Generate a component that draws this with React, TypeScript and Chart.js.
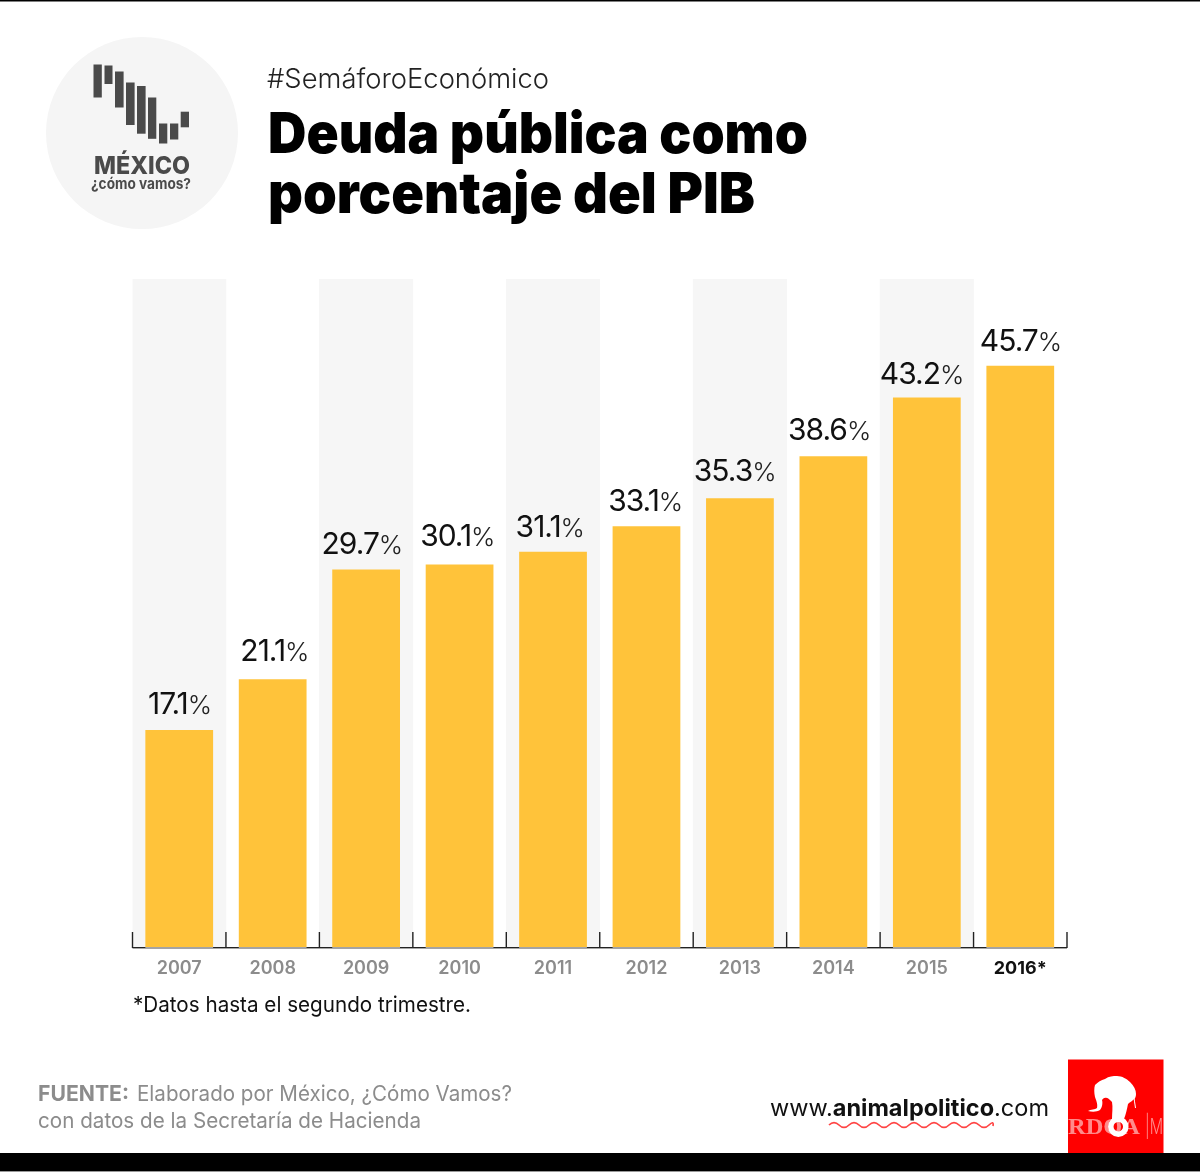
import { useEffect, useRef } from "react";
import { Chart, registerables } from "chart.js";

Chart.register(...registerables);

const years = ["2007", "2008", "2009", "2010", "2011", "2012", "2013", "2014", "2015", "2016*"];
const debt = [17.1, 21.1, 29.7, 30.1, 31.1, 33.1, 35.3, 38.6, 43.2, 45.7];
const bandTop = [52.5, null, 52.5, null, 52.5, null, 52.5, null, 52.5, null];
const yMax = 52.5;

// the value labels are hand placed in the original, not centred on the bars
const labelDx = [0.5, 2, -4, -2, -3, -1, -5, -4, -5, 0.5];
const labelDy = [-2, -4, -1, -4, 0, -1, -3, -2, 1, 0];

const font = "Inter, 'Noto Sans', sans-serif";

// logo columns: x, top, width, height
const logoBars = [
  [93.5, 64.5, 8.3, 33], [104.5, 65.5, 8, 18.5], [115, 71.5, 8.6, 36], [126, 82.5, 8.6, 42.5],
  [137, 86, 8.6, 47.7], [148, 97.5, 8.3, 41.3], [159, 123.5, 8.3, 20], [170, 123.5, 8.3, 16], [180.7, 111.7, 8.3, 15.6],
];

// value labels, ticks and the baseline sit on top of the bars
const overlays = {
  id: "overlays",
  afterDatasetsDraw(chart: any) {
    const { ctx, chartArea } = chart;
    const meta = chart.getDatasetMeta(0);
    const step = (chartArea.right - chartArea.left) / years.length;

    ctx.save();
    ctx.strokeStyle = "#222";
    ctx.lineWidth = 1.4;
    for (let i = 0; i <= years.length; i++) {
      const x = chartArea.left + i * step;
      ctx.beginPath();
      ctx.moveTo(x, chartArea.bottom - 16);
      ctx.lineTo(x, chartArea.bottom);
      ctx.stroke();
    }
    ctx.fillStyle = "#222";
    ctx.fillRect(chartArea.left, chartArea.bottom - 1, chartArea.right - chartArea.left, 1.4);
    ctx.fillStyle = "#a3a3a3";
    meta.data.forEach((bar: any) => {
      ctx.fillRect(bar.x - bar.width / 2, chartArea.bottom - 1, bar.width, 1.4);
    });

    ctx.textBaseline = "alphabetic";
    ctx.textAlign = "left";
    meta.data.forEach((bar: any, i: number) => {
      const num = debt[i].toFixed(1);
      ctx.font = `400 30px ${font}`;
      ctx.letterSpacing = "-1px";
      const numW = ctx.measureText(num).width;
      ctx.font = `300 26px ${font}`;
      ctx.letterSpacing = "-0.5px";
      const pctW = ctx.measureText("%").width;
      const start = bar.x + labelDx[i] - (numW + pctW) / 2;
      const base = bar.y - 14.5 + labelDy[i];
      ctx.font = `400 30px ${font}`;
      ctx.letterSpacing = "-1px";
      ctx.fillStyle = "#111";
      ctx.fillText(num, start, base);
      ctx.font = `300 26px ${font}`;
      ctx.letterSpacing = "-0.5px";
      ctx.fillStyle = "#222";
      ctx.fillText("%", start + numW, base);
    });
    ctx.restore();
  },
};

export default function App() {
  const canvasRef = useRef<HTMLCanvasElement>(null);

  useEffect(() => {
    document.body.style.margin = "0";
    document.body.style.background = "#fff";
    const chart = new Chart(canvasRef.current!, {
      type: "bar",
      data: {
        labels: years,
        datasets: [
          { label: "Deuda", data: debt, backgroundColor: "#ffc33a", barPercentage: 0.725, categoryPercentage: 1, grouped: false },
          { label: "Banda", data: bandTop, backgroundColor: "#f6f6f6", barPercentage: 1, categoryPercentage: 1, grouped: false },
        ],
      },
      options: {
        responsive: false,
        animation: false,
        devicePixelRatio: 1,
        layout: { padding: { left: 132.5, right: 133, top: 279, bottom: 184 } },
        plugins: { legend: { display: false }, tooltip: { enabled: false } },
        scales: {
          x: {
            afterFit: (scale: any) => { scale.height = 40; },
            grid: { display: false, drawTicks: false },
            border: { display: false },
            ticks: {
              padding: 10,
              maxRotation: 0,
              autoSkip: false,
              color: (c: any) => (c.index === years.length - 1 ? "#111" : "#8c8c8c"),
              font: (c: any) => ({ family: font, size: 18, weight: c.index === years.length - 1 ? 700 : 600 }),
            },
          },
          y: { display: false, min: 0, max: yMax },
        },
      },
      plugins: [overlays],
    } as any);
    return () => chart.destroy();
  }, []);

  return (
    <div style={{ position: "relative", width: 1200, height: 1172, overflow: "hidden", background: "#fff" }}>
      <canvas ref={canvasRef} width={1200} height={1172} style={{ position: "absolute", left: 0, top: 0, display: "block" }} />
      <svg width={1200} height={1172} style={{ position: "absolute", left: 0, top: 0 }} fontFamily={font}>
        <rect x={0} y={0} width={1200} height={1.5} fill="#000" />
        <circle cx={142} cy={133} r={96} fill="#f5f5f5" />
        {logoBars.map((b, i) => <rect key={i} x={b[0]} y={b[1]} width={b[2]} height={b[3]} fill="#4a4a4a" />)}
        <text x={94} y={174} fontSize={25} fontWeight={800} fill="#4a4a4a" textLength={96} lengthAdjust="spacingAndGlyphs">MÉXICO</text>
        <text x={91} y={189} fontSize={15} fontWeight={700} fill="#4a4a4a" textLength={100} lengthAdjust="spacingAndGlyphs">¿cómo vamos?</text>

        <text x={267} y={88} fontSize={27} fontWeight={300} fill="#222" textLength={282} lengthAdjust="spacingAndGlyphs">#SemáforoEconómico</text>
        <text x={268} y={153} fontSize={56} fontWeight={900} fill="#000" textLength={540} lengthAdjust="spacingAndGlyphs">Deuda pública como</text>
        <text x={268} y={213} fontSize={56} fontWeight={900} fill="#000" textLength={487} lengthAdjust="spacingAndGlyphs">porcentaje del PIB</text>

        <text x={133} y={1012} fontSize={21.5} fontWeight={400} fill="#111" textLength={338} lengthAdjust="spacingAndGlyphs">*Datos hasta el segundo trimestre.</text>

        <text x={38} y={1101} fontSize={21.5} fontWeight={700} fill="#8c8c8c" textLength={91} lengthAdjust="spacingAndGlyphs">FUENTE:</text>
        <text x={137} y={1101} fontSize={21.5} fontWeight={400} fill="#8c8c8c" textLength={375} lengthAdjust="spacingAndGlyphs">Elaborado por México, ¿Cómo Vamos?</text>
        <text x={38} y={1128} fontSize={21.5} fontWeight={400} fill="#8c8c8c" textLength={383} lengthAdjust="spacingAndGlyphs">con datos de la Secretaría de Hacienda</text>

        <text x={770} y={1116} fontSize={23.5} fontWeight={400} fill="#111" textLength={279} lengthAdjust="spacingAndGlyphs">
          www.<tspan fontWeight={700}>animalpolitico</tspan>.com
        </text>
        <path d="M829 1125 q5 -5 10 0 t10 0 t10 0 t10 0 t10 0 t10 0 t10 0 t10 0 t10 0 t10 0 t10 0 t10 0 t10 0 t10 0 t10 0 t10 0 t4 1" fill="none" stroke="#f44" strokeWidth={1.7} />

        <rect x={1068} y={1059.5} width={95.5} height={94} fill="#ff0000" />
        <text x={1068} y={1134} fontSize={24} fontFamily="'Liberation Serif', serif" fontWeight={700} fill="#ff8a8a" textLength={72} lengthAdjust="spacingAndGlyphs">RDOA</text>
        <text x={1145} y={1134} fontSize={22} fontWeight={300} fill="#ff8a8a" textLength={18} lengthAdjust="spacingAndGlyphs">|M</text>
        <path
          d="M1095 1085 C1098 1082 1101 1080 1105 1079 C1109 1076 1113 1076 1117 1076 C1122 1076 1127 1079 1130 1082 C1134 1086 1136 1090 1136 1094 C1136 1097 1135 1099 1133 1100 C1131 1102 1130 1102 1128 1104 C1127 1109 1126 1114 1124 1119 L1112 1119 C1112 1113 1113 1107 1112 1102 C1110 1100 1108 1098 1107 1098 C1104 1097 1103 1099 1102 1100 C1103 1103 1102 1108 1100 1110 C1097 1112 1092 1112 1088 1111 C1091 1109 1095 1110 1097 1108 C1098 1104 1096 1100 1095 1097 C1094 1093 1094 1088 1095 1085 Z"
          fill="#fff"
        />
        <path d="M1134 1095 C1134 1100 1135 1104 1135.5 1108" fill="none" stroke="#fff" strokeWidth={1} />
        <circle cx={1118.3} cy={1126.7} r={7.5} fill="none" stroke="#fff" strokeWidth={5.5} />

        <rect x={0} y={1153} width={1200} height={18} fill="#000" />
        <rect x={0} y={1171} width={1200} height={1} fill="#999" />
      </svg>
    </div>
  );
}
